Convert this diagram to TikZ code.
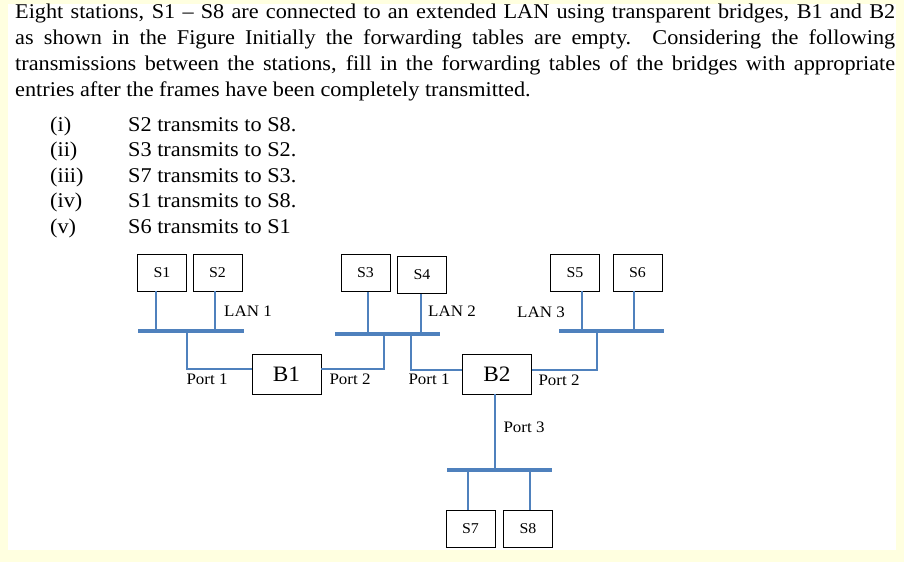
\documentclass[tikz,border=0pt]{standalone}
\usepackage{fontspec}
\setmainfont{Liberation Serif}[FakeStretch=1.06]
\begin{document}
\begin{tikzpicture}[x=1pt,y=-1pt,
  sta/.style={draw,line width=0.8pt,minimum width=49pt,minimum height=37pt,font=\fontsize{15}{15}\selectfont,inner sep=0pt},
  brg/.style={draw,line width=0.8pt,minimum width=69pt,minimum height=40pt,font=\fontsize{22}{22}\selectfont,inner sep=0pt},
  lbl/.style={font=\fontsize{16}{17}\selectfont,inner sep=0pt},
  bus/.style={draw=lanblue,line width=4.5pt},
  wire/.style={draw=lanblue,line width=1.3pt}]
\definecolor{lanblue}{RGB}{79,129,189}
\definecolor{bgy}{RGB}{255,255,224}
\fill[bgy] (0,0) rectangle (904,562);
\fill[white] (8,4) rectangle (896,550);
\useasboundingbox (0,0) rectangle (904,562);
\node[anchor=north west,inner sep=0pt,text width=880pt,align=justify,font=\fontsize{21}{26}\selectfont] (txt) at (15,4)
{Eight stations, S1 -- S8 are connected to an extended LAN using transparent bridges, B1 and B2\linebreak as shown in the Figure Initially the forwarding tables are empty. Considering the following\linebreak transmissions between the stations, fill in the forwarding tables of the bridges with appropriate\linebreak entries after the frames have been completely transmitted.};
\foreach \r/\t [count=\i] in {(i)/S2 transmits to S8., (ii)/S3 transmits to S2., (iii)/S7 transmits to S3., (iv)/S1 transmits to S8., (v)/S6 transmits to S1}{
  \node[anchor=base west,inner sep=0pt,font=\fontsize{21}{26}\selectfont] (r\i) at (50,{105.5+25.5*\i}) {\r};
  \node[anchor=base west,inner sep=0pt,font=\fontsize{21}{26}\selectfont] (t\i) at (128,{105.5+25.5*\i}) {\t};
}
% stations
\node[sta] (S1) at (162,272.5) {S1};
\node[sta] (S2) at (217.5,272.5) {S2};
\node[sta] (S3) at (365.5,273) {S3};
\node[sta] (S4) at (422,275) {S4};
\node[sta] (S5) at (575,272.5) {S5};
\node[sta] (S6) at (637.5,272.5) {S6};
\node[sta] (S7) at (470.5,528.5) {S7};
\node[sta] (S8) at (528,528.5) {S8};
% bridges
\node[brg] (B1) at (286.5,374) {B1};
\node[brg] (B2) at (497,374) {B2};
% buses
\coordinate (L1a) at (138,331); \coordinate (L1b) at (244,331);
\coordinate (L2a) at (335,334); \coordinate (L2b) at (440,334);
\coordinate (L3a) at (559,331); \coordinate (L3b) at (664,331);
\coordinate (L4a) at (447,470); \coordinate (L4b) at (552,470);
\draw[bus] (L1a) -- (L1b);
\draw[bus] (L2a) -- (L2b);
\draw[bus] (L3a) -- (L3b);
\draw[bus] (L4a) -- (L4b);
% stems
\draw[wire] (156,331) -- (S1.south -| 156,0);
\draw[wire] (215,331) -- (S2.south -| 215,0);
\draw[wire] (368,334) -- (S3.south -| 368,0);
\draw[wire] (421,334) -- (S4.south -| 421,0);
\draw[wire] (582,331) -- (S5.south -| 582,0);
\draw[wire] (634,331) -- (S6.south -| 634,0);
\draw[wire] (468,470) -- (S7.north -| 468,0);
\draw[wire] (530,470) -- (S8.north -| 530,0);
% bridge links
\draw[wire] (187,331) |- (B1.west |- 0,369);
\draw[wire] (B1.east |- 0,369) -| (384,334);
\draw[wire] (411,334) |- (B2.west |- 0,370);
\draw[wire] (B2.east |- 0,370) -| (597,331);
\draw[wire] (B2.south -| 495,0) -- (495,470);
% labels
\node[lbl] (lan1) at (248,311) {LAN 1};
\node[lbl] (lan2) at (452,311) {LAN 2};
\node[lbl] (lan3) at (541,312) {LAN 3};
\node[lbl] (p11) at (207,379) {Port 1};
\node[lbl] (p12) at (350,379) {Port 2};
\node[lbl] (p21) at (429,379) {Port 1};
\node[lbl] (p22) at (559,380) {Port 2};
\node[lbl] (p23) at (524,427) {Port 3};
\end{tikzpicture}
\end{document}
